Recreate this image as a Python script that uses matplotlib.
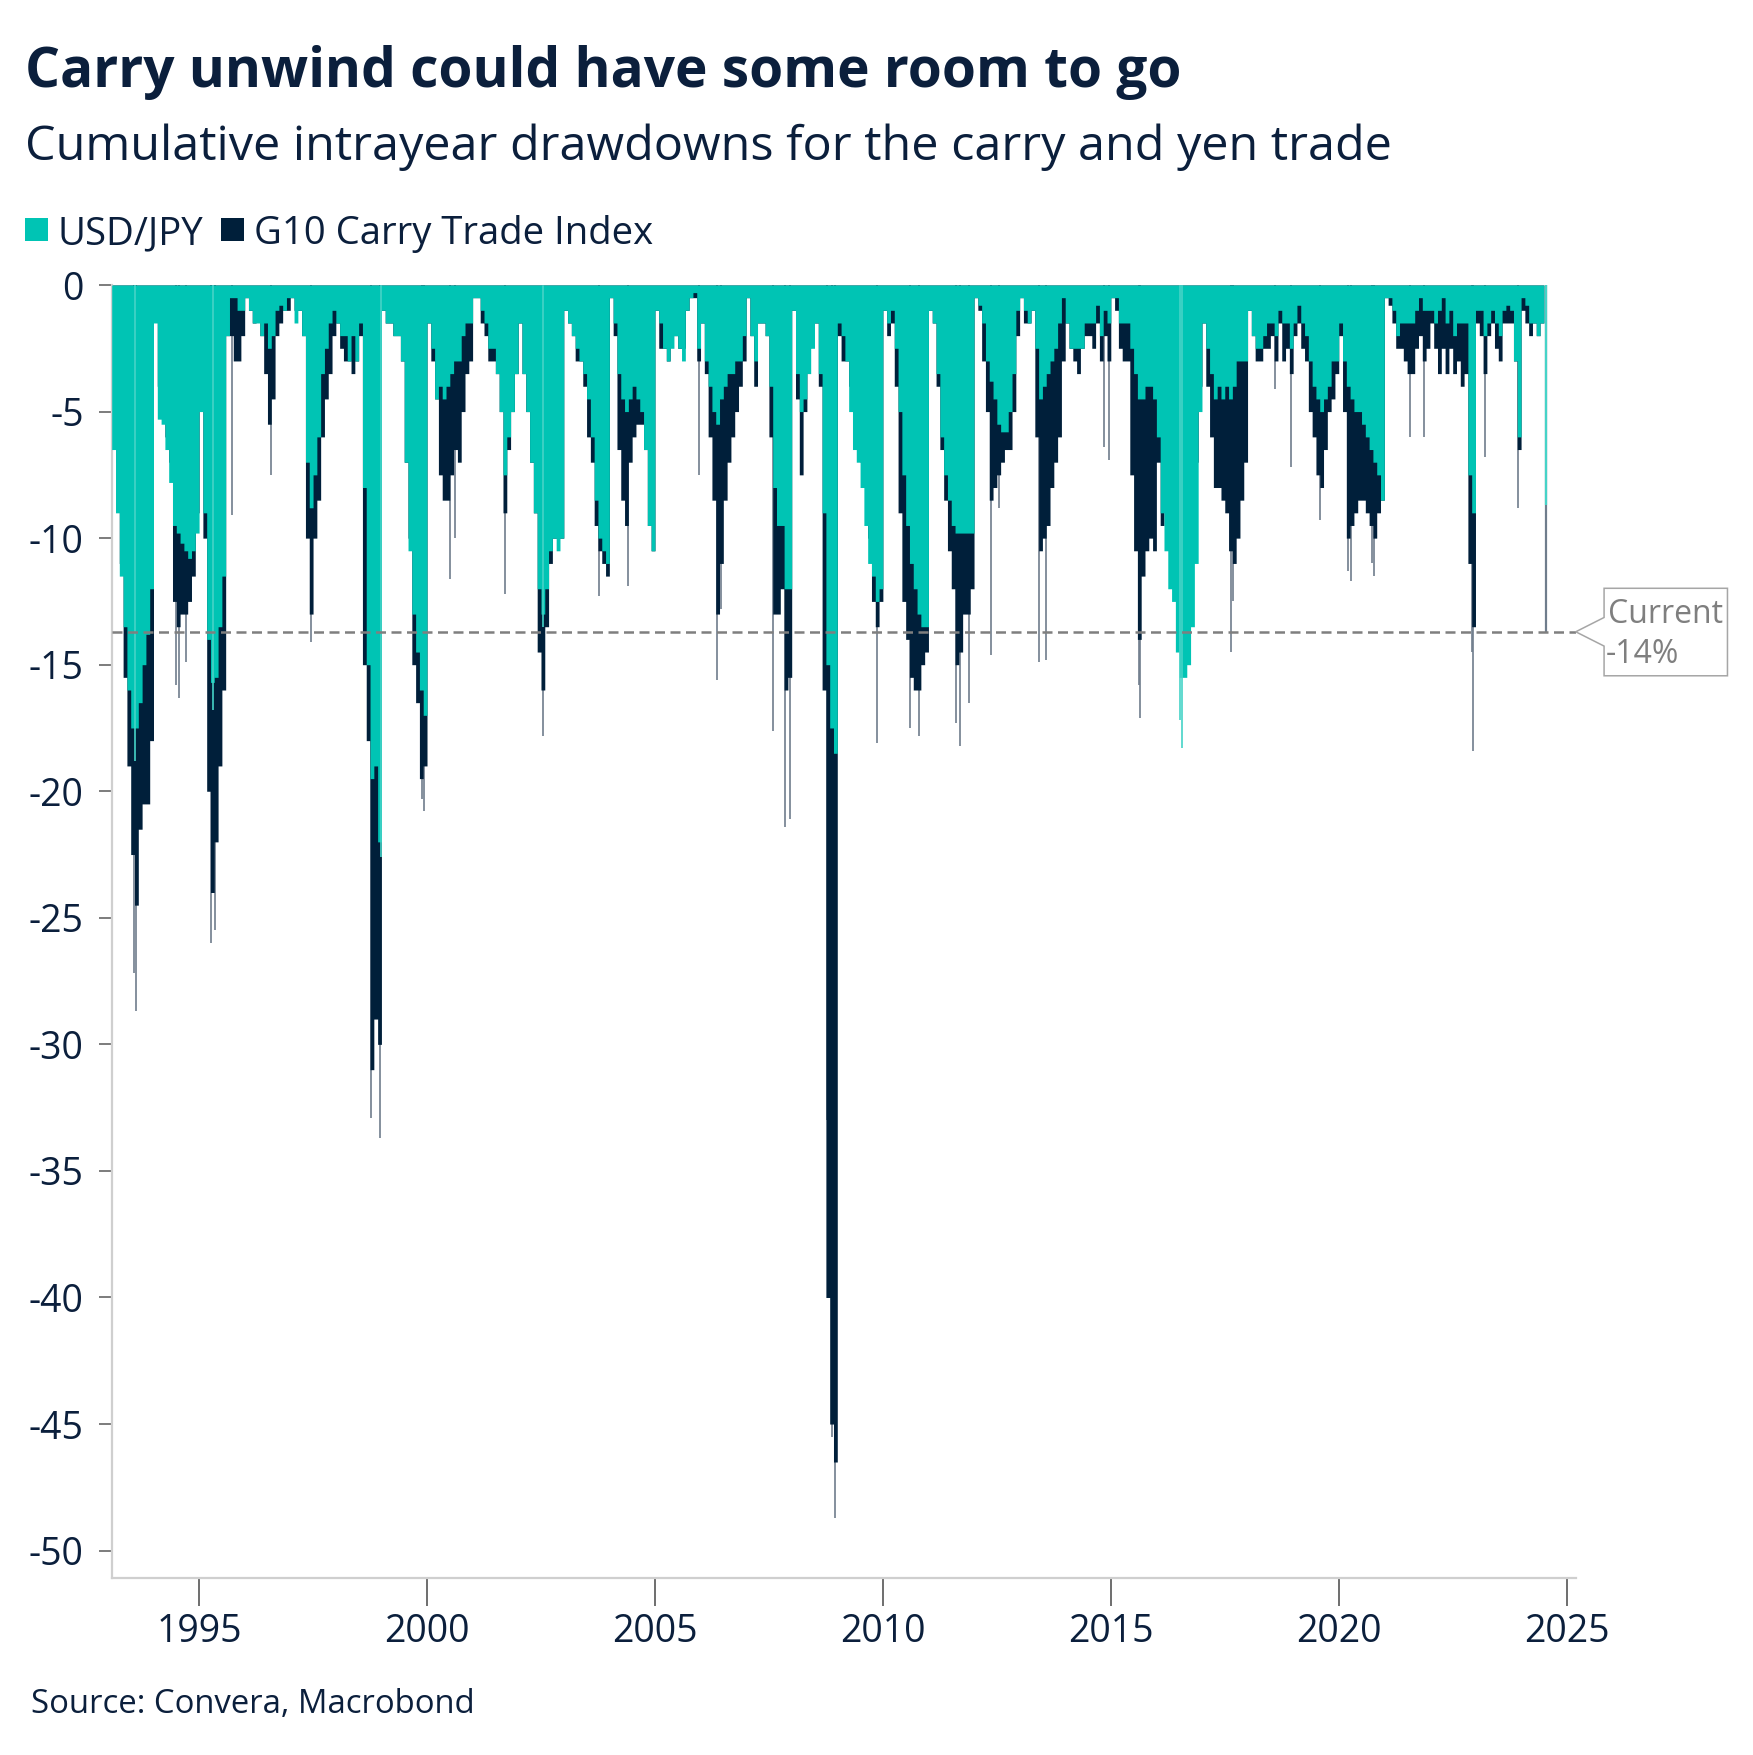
import numpy as np
import matplotlib
matplotlib.use("Agg")
import matplotlib.pyplot as plt
from matplotlib.patches import Rectangle, Polygon

plt.rcParams['font.family'] = ['Open Sans', 'DejaVu Sans']
plt.rcParams['axes.unicode_minus'] = False

TEAL = '#00c4b4'
NAVY = '#001f3a'
INK = '#0b1f3c'
GREY = '#7f7f7f'

# monthly intrayear drawdowns in %, one row per year, first row starts Feb 1993
usdjpy = [
    [-6.5, -9, -11.5, -13.5, -16, -17.5, -17.5, -16.5, -15, -13.8, -12],
    [-1.5, -5.3, -5.5, -6.5, -7.8, -9.5, -9.8, -10.2, -10.5, -10.8, -10.5, -9.8],
    [-5, -9, -14, -15.7, -15.5, -13.5, -11.5, -2, -0.5, -0.5, -1, -1],
    [-0.5, -1, -1.5, -1.5, -2, -1.5, -2.5, -2, -1, -0.8, -1, -0.5],
    [-0.5, -1.5, -1, -2, -7, -8.8, -7.5, -6, -3.5, -2.5, -1.5, -1],
    [-1.5, -2, -2, -3, -2, -3, -1.5, -8, -15, -19.5, -19, -22],
    [-1, -1.5, -1.5, -2, -2, -3, -7, -10.5, -13, -14.5, -16, -17],
    [-1.5, -2.5, -4.5, -4, -4.5, -4, -3.5, -3, -3, -2, -1.5, -1.5],
    [-0.5, -0.5, -1, -1.5, -2.5, -2.5, -3.5, -5, -7.5, -6, -5, -3.5],
    [-1.5, -3.5, -5, -7, -9, -12, -13, -12, -10.5, -10, -10.5, -10],
    [-1, -1.5, -2, -2.5, -3, -3.5, -4.5, -6, -8.5, -10, -10.5, -11],
    [-0.5, -1.5, -3.5, -4.5, -5, -4.5, -4, -4.5, -5, -6.5, -9.5, -10.5],
    [-1, -1.5, -2.5, -3, -2.5, -2, -2.5, -3, -1, -0.5, -0.3, -2.5],
    [-1.5, -3, -4, -5, -5.5, -4.5, -4, -3.5, -3.5, -3, -3, -2],
    [-0.5, -2, -3, -1.5, -1.5, -2, -4, -8, -9.5, -9.5, -12, -12],
    [-1, -3.5, -5, -4.5, -3.5, -2.5, -1.5, -3.5, -9, -15, -17.5, -18.5],
    [-1.5, -2, -3, -5, -6.5, -7, -8, -9.5, -11, -11.5, -12.5, -12],
    [-1, -1.5, -1, -2.5, -5, -7.5, -9.5, -11, -12, -13, -13.5, -13.5],
    [-1, -1.5, -3.5, -6, -7.5, -8.5, -9.5, -9.8, -9.8, -9.8, -9.8, -9.8],
    [-0.5, -0.8, -1.5, -3, -3.8, -4.5, -5.5, -5.8, -5.8, -5, -3.5, -1],
    [-0.5, -1, -1.5, -1, -2.5, -4.5, -4, -3.5, -3, -2.5, -1.5, -0.5],
    [-1.5, -2.5, -2.5, -2.5, -2.5, -1.5, -1.5, -1.5, -0.8, -2, -1, -1.5],
    [-0.5, -0.5, -1.5, -1.5, -1.5, -2.5, -3.5, -4.5, -4.5, -4, -4, -4.5],
    [-6, -9, -10.5, -12, -12.5, -14.5, -15.5, -15.5, -15, -13.5, -11, -5],
    [-1.5, -2.5, -3.5, -4.5, -4, -4.5, -4, -4.5, -4, -3, -3, -3],
    [-1, -2, -2.5, -2.5, -2, -1.5, -1.5, -2, -1, -1.5, -1.5, -2.5],
    [-1.5, -0.8, -1.5, -2, -3, -4, -4.5, -5, -4.5, -4, -3, -3],
    [-1.5, -3, -4, -4.5, -5, -5, -5.5, -6, -6.5, -7, -7.5, -8.5],
    [-0.5, -0.5, -1, -2, -1.5, -1.5, -1.5, -1.5, -1, -0.5, -1, -1],
    [-1, -1.5, -1, -0.5, -1.5, -1, -2, -1.5, -1.5, -1.5, -7.5, -9],
    [-1, -1, -2, -1.5, -1, -1.5, -2, -1, -0.8, -1, -3, -6],
    [-0.5, -0.8, -1.5, -1.5, -2, -1.5],
]

carry = [
    [-4, -7, -11, -15.5, -19, -22.5, -24.5, -21.5, -20.5, -20.5, -18],
    [-1, -4, -5, -6, -7, -12.5, -13.5, -13, -13, -12.5, -11.5, -9],
    [-4, -10, -20, -24, -22, -19, -16, -2, -2, -3, -3, -2],
    [-0.5, -1, -1.5, -1, -2, -3.5, -5.5, -4.5, -2, -1.5, -1, -1],
    [-0.5, -1, -1, -2, -10, -13, -10, -8.5, -6, -4.5, -3.5, -2],
    [-1.5, -2.5, -3, -3, -3.5, -3, -2, -15, -18, -31, -29, -30],
    [-1, -1.5, -1.5, -2, -2, -3, -7, -10, -15, -16.5, -19.5, -19],
    [-1.5, -3, -4.5, -7.5, -8.5, -8.5, -7.5, -6.5, -7, -5, -3.5, -3],
    [-0.5, -0.5, -1.5, -2, -3, -3, -3.5, -5, -9, -6.5, -5, -3.5],
    [-1.5, -3.5, -5, -7, -9, -14.5, -16, -13.5, -11, -10, -10, -10],
    [-1, -1.5, -2, -3, -3, -4, -6, -7, -9.5, -10.5, -11, -11.5],
    [-0.5, -2, -6.5, -8.5, -9.5, -7, -6, -5.5, -5.5, -6.5, -9.5, -10.5],
    [-1, -2.5, -2.5, -3, -2, -2, -2.5, -2.5, -1, -0.5, -0.5, -3],
    [-1.5, -3.5, -6, -8.5, -13, -11, -8.5, -7, -6, -5, -4, -3],
    [-0.5, -2, -4, -1.5, -1.5, -2, -6, -13, -13, -12, -16, -15.5],
    [-1, -4.5, -7.5, -5, -2.5, -1.5, -1.5, -4, -16, -40, -45, -46.5],
    [-2, -3, -3, -4, -5, -6, -7, -8, -10, -12.5, -13.5, -12.5],
    [-1, -2, -1.5, -4, -9, -12.5, -14, -15.5, -16, -16, -15, -14.5],
    [-1, -1.5, -4, -6.5, -8.5, -10.5, -12, -15, -14.5, -13, -13, -12],
    [-0.5, -1, -3, -5, -8.5, -8, -7.5, -7, -6.5, -6.5, -5, -2],
    [-0.5, -1.5, -1.5, -1, -6, -10.5, -10, -9.5, -8, -7, -6, -3],
    [-1.5, -2.5, -3, -3.5, -2.5, -2, -2, -2.5, -1.5, -3, -2, -3],
    [-0.5, -1, -2.5, -3, -3, -7.5, -10.5, -14, -11.5, -10.5, -10, -10.5],
    [-7, -9.5, -8, -8, -8, -12, -10, -9, -9, -8, -7, -4],
    [-1.5, -4, -6, -8, -8, -8.5, -9, -10.5, -11, -10, -8.5, -7],
    [-1, -2, -3, -3, -2.5, -2.5, -2, -3, -1.5, -3, -2.5, -3.5],
    [-2, -1.5, -2.5, -3, -5, -6, -7.5, -8, -6.5, -5, -4.5, -3.5],
    [-2, -5, -10, -9.5, -9, -8.5, -8.5, -9, -9.5, -10, -9, -8.5],
    [-0.5, -0.8, -1.5, -2.5, -2.5, -3, -3.5, -3.5, -2.5, -2, -3, -2.5],
    [-1.5, -2.5, -3.5, -2.5, -3.5, -2.5, -3.5, -3, -4, -3.5, -11, -13.5],
    [-1.5, -2, -3.5, -2, -1.5, -2.5, -3, -1.5, -1.5, -1.5, -3, -6.5],
    [-1, -1.5, -2, -1.5, -2, -1.5],
]

# single-day troughs that stick out below the monthly levels
carry_spike_t = [1993.57, 1993.61, 1994.50, 1994.56, 1994.72, 1995.27, 1995.35, 1995.72,
                 1996.57, 1997.45, 1998.78, 1998.97, 1999.88, 1999.93, 2000.50, 2000.62,
                 2001.70, 2002.55, 2003.78, 2004.40, 2005.97, 2006.37, 2006.44, 2007.59,
                 2007.86, 2007.97, 2008.78, 2008.88, 2008.95, 2009.87, 2010.60, 2010.80,
                 2011.60, 2011.69, 2011.88, 2012.38, 2012.55, 2013.42, 2013.57, 2014.85,
                 2014.96, 2015.62, 2015.65, 2017.63, 2017.68, 2018.60, 2018.96, 2019.60,
                 2020.20, 2020.28, 2020.72, 2020.78, 2021.57, 2021.86, 2022.93, 2022.95,
                 2023.20, 2023.93]
carry_spike_v = [-27.2, -28.7, -15.8, -16.3, -14.9, -26.0, -25.5, -9.1,
                 -7.5, -14.1, -32.9, -33.7, -20.3, -20.8, -11.6, -10.0,
                 -12.2, -17.8, -12.3, -11.9, -7.5, -15.6, -12.8, -17.6,
                 -21.4, -21.1, -33.0, -45.5, -48.7, -18.1, -17.5, -17.8,
                 -17.3, -18.2, -16.5, -14.6, -8.8, -14.9, -14.8, -6.4,
                 -6.9, -15.8, -17.1, -14.5, -12.5, -4.1, -7.2, -9.3,
                 -11.3, -11.7, -11.0, -11.5, -6.0, -6.0, -14.5, -18.4,
                 -6.8, -8.8]
jpy_spike_t = [1993.60, 1995.30, 1998.98, 2002.55, 2016.52, 2016.57]
jpy_spike_v = [-18.8, -16.8, -22.6, -13.5, -17.2, -18.3]

current_t = 2024.54
current_jpy = -8.7
current_carry = -13.7

title = "Carry unwind could have some room to go"
subtitle = "Cumulative intrayear drawdowns for the carry and yen trade"
source = "Source: Convera, Macrobond"

jpy = np.concatenate(usdjpy)
car = np.concatenate(carry)
t = 1993 + 1 / 12 + np.arange(len(jpy)) / 12
edges = np.append(t, t[-1] + 1 / 12)

fig = plt.figure(figsize=(17.53, 17.55), dpi=100)
ax = fig.add_axes([0.0639, 0.1006, 0.835, 0.737])

ax.vlines(carry_spike_t, 0, carry_spike_v, color='#6f7d8c', lw=1.2, zorder=1)
ax.vlines(current_t, 0, current_carry, color='#6f7d8c', lw=1.6, zorder=1)
ax.fill_between(edges, 0, np.append(car, car[-1]), step='post', color=NAVY, lw=0, zorder=2)
ax.fill_between(edges, 0, np.append(jpy, jpy[-1]), step='post', color=TEAL, lw=0, zorder=3)
ax.vlines(jpy_spike_t, 0, jpy_spike_v, color='#45d3c7', lw=1.2, zorder=3.5)
ax.vlines(current_t, 0, current_jpy, color='#45d3c7', lw=1.6, zorder=3.5)

ax.axhline(current_carry, color=GREY, lw=1.8, dashes=(4, 2.2), zorder=5)

ax.set_xlim(1993.09, 2025.2)
ax.set_ylim(-51.1, 0)
ax.set_yticks(np.arange(-50, 1, 5))
ax.set_yticklabels([f"{v:.0f}" for v in np.arange(-50, 1, 5)])
ax.set_xticks(range(1995, 2026, 5))
for s in ['top', 'right']:
    ax.spines[s].set_visible(False)
for s in ['left', 'bottom']:
    ax.spines[s].set_color('#cfcfcf')
    ax.spines[s].set_linewidth(1.6)
ax.tick_params(axis='y', length=9.5, width=1.2, color='#666666', pad=11,
               labelsize=27, labelcolor=INK)
ax.tick_params(axis='x', length=20, width=1.2, color='#555555', pad=5,
               labelsize=27, labelcolor=INK)

fig.text(0.014, 0.9503, title, fontsize=39.6, fontweight='bold', color=INK)
fig.text(0.014, 0.9088, subtitle, fontsize=34.9, color=INK)
fig.text(0.0179, 0.0241, source, fontsize=23.7, color=INK)

# legend: coloured squares followed by labels
renderer = fig.canvas.get_renderer()
W, H = fig.bbox.width, fig.bbox.height
x = 24.6
for lab, col in [("USD/JPY", TEAL), ("G10 Carry Trade Index", NAVY)]:
    fig.add_artist(Rectangle((x / W, 1 - 240.7 / H), 23 / W, 22.7 / H,
                             transform=fig.transFigure, color=col, lw=0))
    txt = fig.text((x + 33) / W, 1 - 244 / H, lab, fontsize=27.5, color=INK)
    bb = txt.get_window_extent(renderer)
    x = bb.x1 + 18

# callout box for the latest value
tx, ty = ax.transData.transform((ax.get_xlim()[1], current_carry))
left, right = tx + 28.3, tx + 151.7
top, bot = ty + 43.5, ty - 44
pts = [(left, top), (right, top), (right, bot), (left, bot),
       (left, ty - 14.3), (tx, ty), (left, ty + 14.3)]
fig.add_artist(Polygon([(px / W, py / H) for px, py in pts], closed=True,
                       transform=fig.transFigure, fc='white', ec='#a6a6a6', lw=1.1))
fig.text((left + 4) / W, (ty + 8.7) / H, "Current", fontsize=23, color=GREY)
fig.text((left + 2) / W, (ty - 31) / H, f"{current_carry:.0f}%", fontsize=23, color=GREY)

fig.savefig("out.png", dpi=100)
